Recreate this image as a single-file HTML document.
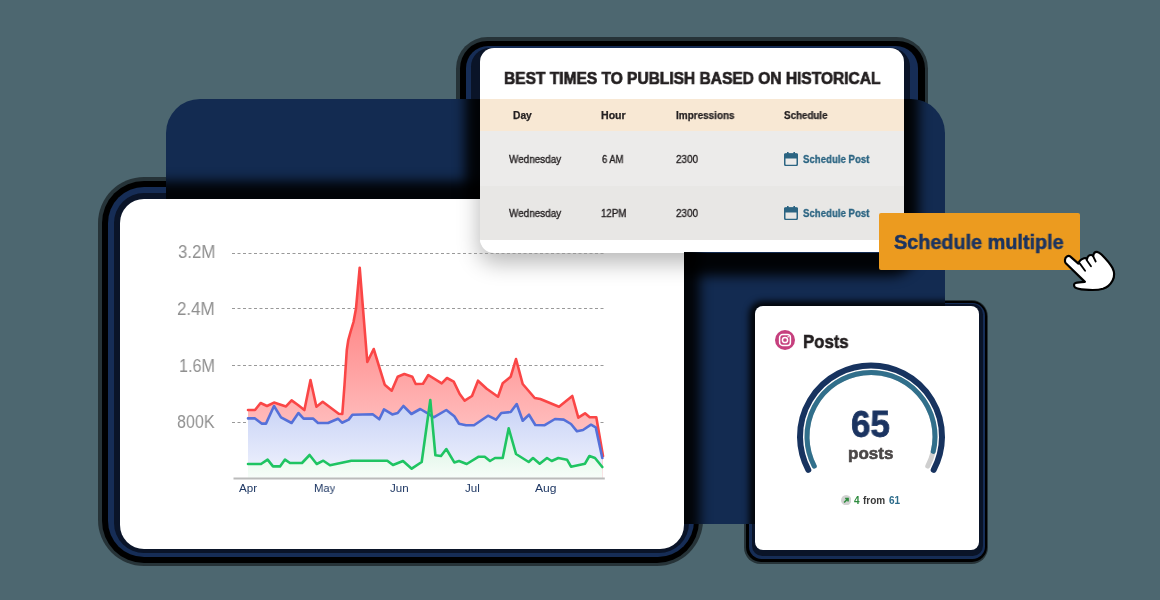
<!DOCTYPE html>
<html><head><meta charset="utf-8"><style>
*{margin:0;padding:0;box-sizing:border-box}
html,body{width:1160px;height:600px;overflow:hidden}
body{background:#4d6770;position:relative;font-family:"Liberation Sans",sans-serif}
.abs{position:absolute}
.t{position:absolute;line-height:1;white-space:nowrap;will-change:transform}
#navy{left:166px;top:99px;width:779px;height:425px;background:#132b51;border-radius:34px 34px 0 0;overflow:hidden}
#chart{left:120px;top:199px;width:563.5px;height:350px;background:#fff;border-radius:24px;overflow:hidden}
#table{left:480px;top:47.8px;width:424px;height:204.7px;background:#fff;border-radius:14px;overflow:hidden}
#posts{left:755px;top:305.5px;width:224px;height:244.5px;background:#fff;border-radius:8px}
#btn{left:879px;top:212.5px;width:201px;height:57.5px;background:#ec9b1f;border-radius:2px}
</style></head><body>

<div class="abs" style="left:98px;top:177px;width:604.5px;height:389px;border-radius:46.0px;background:rgba(0,0,0,.5)"></div>
<div class="abs" style="left:102px;top:181px;width:596.5px;height:381.5px;border-radius:42.0px;background:#000"></div>
<div class="abs" style="left:108px;top:187px;width:585.5px;height:369.5px;border-radius:36.0px;background:#162d56"></div>
<div class="abs" style="left:114px;top:193px;width:574.5px;height:360px;border-radius:30.0px;background:#0a1428"></div>
<div class="abs" style="left:456px;top:37.0px;width:472px;height:245.5px;border-radius:31.4px;background:rgba(0,0,0,.5)"></div>
<div class="abs" style="left:460px;top:41.0px;width:465px;height:239.5px;border-radius:27.4px;background:#000"></div>
<div class="abs" style="left:466px;top:45.5px;width:452px;height:233.0px;border-radius:22.1px;background:#162d56"></div>
<div class="abs" style="left:471px;top:47.8px;width:439px;height:228.7px;border-radius:18.5px;background:#0a1428"></div>
<div class="abs" style="left:744px;top:299.5px;width:244px;height:264.5px;border-radius:16.5px;background:rgba(0,0,0,.5)"></div>
<div class="abs" style="left:746px;top:300.5px;width:240.5px;height:261.5px;border-radius:15.0px;background:#000"></div>
<div class="abs" style="left:749px;top:302.5px;width:236px;height:256.5px;border-radius:12.5px;background:#162d56"></div>
<div class="abs" style="left:752px;top:304.0px;width:231px;height:252.0px;border-radius:10.2px;background:#0a1428"></div>
<div id="navy" class="abs">
<div class="abs" style="left:-46px;top:100px;width:563.5px;height:350px;border-radius:24px;box-shadow:0 -2px 12px 16px rgba(0,0,0,.9)"></div>
<div class="abs" style="left:314px;top:-51.2px;width:424px;height:204.7px;border-radius:14px;box-shadow:0 8px 12px 15px rgba(0,0,0,.92)"></div>
<div class="abs" style="left:589px;top:206.5px;width:224px;height:244.5px;border-radius:8px;box-shadow:0 1px 6px 6px rgba(0,0,0,.88)"></div>
</div>
<div id="chart" class="abs">
<div class="abs" style="left:360px;top:-151.2px;width:424px;height:204.7px;border-radius:14px;box-shadow:0 9px 22px 1px rgba(0,0,0,.28)"></div>
<svg class="abs" style="left:-120px;top:-199px" width="1160" height="600" viewBox="0 0 1160 600">
<defs>
<linearGradient id="gr" x1="0" y1="260" x2="0" y2="478" gradientUnits="userSpaceOnUse"><stop offset="0" stop-color="#ff7070"/><stop offset="0.45" stop-color="#ff9c9c"/><stop offset="0.72" stop-color="#ffb8b8"/><stop offset="1" stop-color="#ffd2d2"/></linearGradient>
<linearGradient id="gb" x1="0" y1="405" x2="0" y2="478" gradientUnits="userSpaceOnUse"><stop offset="0" stop-color="#c8d3f6"/><stop offset="1" stop-color="#f1f3fd"/></linearGradient>
<linearGradient id="gg" x1="0" y1="400" x2="0" y2="478" gradientUnits="userSpaceOnUse"><stop offset="0" stop-color="#bfeecf"/><stop offset="0.7" stop-color="#e6f8ec"/><stop offset="1" stop-color="#f7fdf9"/></linearGradient>
</defs>
<g stroke="#999" stroke-width="1" stroke-dasharray="3 2.5">
<line x1="232" y1="253.5" x2="603.5" y2="253.5"/>
<line x1="232" y1="308.5" x2="603.5" y2="308.5"/>
<line x1="232" y1="365.5" x2="603.5" y2="365.5"/>
<line x1="232" y1="422.5" x2="603.5" y2="422.5"/>
</g>
<path d="M248,410 L255,410 L260.6,403 L267,406 L274,402.6 L280,404.4 L286,406.4 L291.6,400.4 L298,405 L304.4,410 L310.5,380 L316.4,406.7 L322.7,401.8 L338.7,413.7 L342.3,414 L344.5,385 L346.8,350 L348.3,340 L350.5,332 L353.5,322 L356,308.5 L359.7,267.7 L367.3,362 L373.7,349 L384.7,384.7 L391.7,390.7 L397.7,376.7 L404.3,374 L412.3,376.7 L415.7,384 L423,383.7 L428.3,375 L441.7,383.3 L447,378 L453.7,381.6 L459.7,394 L464.7,400.7 L472,396 L478,380.7 L486.7,388.7 L498,396.7 L502.7,383.3 L510.7,376.7 L516,359 L522.7,384 L534.7,398 L540.3,399 L559,406.7 L572.3,396 L578.3,417.7 L585,413.3 L589.7,417.3 L596.3,417.3 L603,456 L603,478 L248,478 Z" fill="url(#gr)"/>
<path d="M248,418.4 L255,418.4 L261.6,423.6 L266,423.6 L274,406 L281,417.4 L291.6,423 L298.4,413 L303.6,418.6 L313,418.6 L318,423 L328,423 L338,418.7 L342,422.7 L348.7,419.6 L352.4,414.7 L372.7,414.3 L379.3,419.3 L384,409.4 L392.3,414.4 L397.7,413 L403.4,406 L411.4,414 L420.3,409 L427.7,413.3 L433.7,417.3 L446.3,410 L454.3,416.3 L459,423.7 L466,425.3 L474,425.3 L488,415.7 L496,419.7 L501.3,413 L510.7,412 L516.7,404 L522.7,420.7 L529,414.7 L535.3,425 L544.3,425.3 L555,419 L563.7,419.6 L571,424 L577,431.3 L583,430 L591,424.7 L595.7,427.3 L602.3,458 L602.3,478 L248,478 Z" fill="url(#gb)"/>
<path d="M248,464 L261,464 L267.6,459.6 L273,466.4 L280,466.4 L285,459.6 L290,463 L302,463 L309.6,455 L316.7,464 L323.3,460.7 L330,465.3 L351.3,460.7 L387.3,460.7 L393,465 L403,461 L411.7,468.7 L421.7,462 L430.3,400 L435.4,455.3 L441,456 L446.3,449 L454.3,462.4 L459,461 L466.7,464 L478.7,456.7 L484.7,456.7 L490,461 L495,458 L502.7,458 L508.7,428.3 L516,454 L528.7,462 L533,458 L539.7,463.7 L547,458 L551.7,461 L558.3,458 L567,459.7 L571,466.7 L585,463.7 L589.4,456 L595,458 L602.3,467 L602.3,478 L248,478 Z" fill="url(#gg)"/>
<g fill="none" stroke-width="2.6" stroke-linejoin="round" stroke-linecap="round">
<path d="M248,410 L255,410 L260.6,403 L267,406 L274,402.6 L280,404.4 L286,406.4 L291.6,400.4 L298,405 L304.4,410 L310.5,380 L316.4,406.7 L322.7,401.8 L338.7,413.7 L342.3,414 L344.5,385 L346.8,350 L348.3,340 L350.5,332 L353.5,322 L356,308.5 L359.7,267.7 L367.3,362 L373.7,349 L384.7,384.7 L391.7,390.7 L397.7,376.7 L404.3,374 L412.3,376.7 L415.7,384 L423,383.7 L428.3,375 L441.7,383.3 L447,378 L453.7,381.6 L459.7,394 L464.7,400.7 L472,396 L478,380.7 L486.7,388.7 L498,396.7 L502.7,383.3 L510.7,376.7 L516,359 L522.7,384 L534.7,398 L540.3,399 L559,406.7 L572.3,396 L578.3,417.7 L585,413.3 L589.7,417.3 L596.3,417.3 L603,456" stroke="#fa4646"/>
<path d="M248,418.4 L255,418.4 L261.6,423.6 L266,423.6 L274,406 L281,417.4 L291.6,423 L298.4,413 L303.6,418.6 L313,418.6 L318,423 L328,423 L338,418.7 L342,422.7 L348.7,419.6 L352.4,414.7 L372.7,414.3 L379.3,419.3 L384,409.4 L392.3,414.4 L397.7,413 L403.4,406 L411.4,414 L420.3,409 L427.7,413.3 L433.7,417.3 L446.3,410 L454.3,416.3 L459,423.7 L466,425.3 L474,425.3 L488,415.7 L496,419.7 L501.3,413 L510.7,412 L516.7,404 L522.7,420.7 L529,414.7 L535.3,425 L544.3,425.3 L555,419 L563.7,419.6 L571,424 L577,431.3 L583,430 L591,424.7 L595.7,427.3 L602.3,458" stroke="#5570d8"/>
<path d="M248,464 L261,464 L267.6,459.6 L273,466.4 L280,466.4 L285,459.6 L290,463 L302,463 L309.6,455 L316.7,464 L323.3,460.7 L330,465.3 L351.3,460.7 L387.3,460.7 L393,465 L403,461 L411.7,468.7 L421.7,462 L430.3,400 L435.4,455.3 L441,456 L446.3,449 L454.3,462.4 L459,461 L466.7,464 L478.7,456.7 L484.7,456.7 L490,461 L495,458 L502.7,458 L508.7,428.3 L516,454 L528.7,462 L533,458 L539.7,463.7 L547,458 L551.7,461 L558.3,458 L567,459.7 L571,466.7 L585,463.7 L589.4,456 L595,458 L602.3,467" stroke="#1fc462"/>
</g>
<line x1="233.5" y1="478.5" x2="604.8" y2="478.5" stroke="#bbbbbb" stroke-width="2"/>
</svg>
<div class="t" style="left:57.57px;top:44.00px;font-size:18px;font-weight:400;color:#8f8f8f;transform:scaleX(0.9342);transform-origin:0 0;">3.2M</div>
<div class="t" style="left:57.36px;top:101.00px;font-size:18px;font-weight:400;color:#8f8f8f;transform:scaleX(0.9395);transform-origin:0 0;">2.4M</div>
<div class="t" style="left:58.90px;top:158.00px;font-size:18px;font-weight:400;color:#8f8f8f;transform:scaleX(0.9000);transform-origin:0 0;">1.6M</div>
<div class="t" style="left:57.10px;top:214.00px;font-size:18px;font-weight:400;color:#8f8f8f;transform:scaleX(0.8951);transform-origin:0 0;">800K</div>
<div class="t" style="left:119.00px;top:284.00px;font-size:11.5px;font-weight:400;color:#1f3864;transform:scaleX(1.0111);transform-origin:0 0;">Apr</div>
<div class="t" style="left:194.02px;top:284.00px;font-size:11.5px;font-weight:400;color:#1f3864;transform:scaleX(0.9762);transform-origin:0 0;">May</div>
<div class="t" style="left:270.30px;top:284.00px;font-size:11.5px;font-weight:400;color:#1f3864;transform:scaleX(1.0056);transform-origin:0 0;">Jun</div>
<div class="t" style="left:344.50px;top:284.00px;font-size:11.5px;font-weight:400;color:#1f3864;transform:scaleX(1.0071);transform-origin:0 0;">Jul</div>
<div class="t" style="left:415.20px;top:284.00px;font-size:11.5px;font-weight:400;color:#1f3864;transform:scaleX(1.0500);transform-origin:0 0;">Aug</div>
</div>
<div id="table" class="abs">
<div class="abs" style="left:0;top:51.2px;width:424px;height:32px;background:#f8e8d4"></div>
<div class="abs" style="left:0;top:83.2px;width:424px;height:55px;background:#ecebea"></div>
<div class="abs" style="left:0;top:138.2px;width:424px;height:54px;background:#e8e7e5"></div>
<div class="t" style="left:24.11px;top:22.20px;font-size:17.4px;font-weight:700;color:#231f20;transform:scaleX(0.8929);transform-origin:0 0;-webkit-text-stroke:0.7px #231f20;">BEST TIMES TO PUBLISH BASED ON HISTORICAL</div>
<div class="t" style="left:32.98px;top:63.20px;font-size:10px;font-weight:700;color:#231f20;transform:scaleX(1.0235);transform-origin:0 0;-webkit-text-stroke:0.25px #231f20;">Day</div>
<div class="t" style="left:120.64px;top:63.20px;font-size:10px;font-weight:700;color:#231f20;transform:scaleX(1.0591);transform-origin:0 0;-webkit-text-stroke:0.25px #231f20;">Hour</div>
<div class="t" style="left:195.61px;top:63.20px;font-size:10px;font-weight:700;color:#231f20;transform:scaleX(0.9931);transform-origin:0 0;-webkit-text-stroke:0.25px #231f20;">Impressions</div>
<div class="t" style="left:304.10px;top:63.20px;font-size:10px;font-weight:700;color:#231f20;transform:scaleX(0.9795);transform-origin:0 0;-webkit-text-stroke:0.25px #231f20;">Schedule</div>
<div class="t" style="left:29.30px;top:106.20px;font-size:10.5px;font-weight:400;color:#231f20;transform:scaleX(0.9436);transform-origin:0 0;-webkit-text-stroke:0.35px #231f20;">Wednesday</div>
<div class="t" style="left:323.40px;top:106.20px;font-size:11.3px;font-weight:700;color:#2b6482;transform:scaleX(0.8538);transform-origin:0 0;-webkit-text-stroke:0.3px #2b6482;">Schedule Post</div>
<div class="t" style="left:195.90px;top:106.20px;font-size:10.5px;font-weight:400;color:#231f20;transform:scaleX(0.9435);transform-origin:0 0;-webkit-text-stroke:0.35px #231f20;">2300</div>
<svg class="abs" style="left:304px;top:104.2px" width="14" height="14" viewBox="0 0 14 14"><rect x="0.75" y="2" width="12.5" height="11.5" rx="1.2" fill="none" stroke="#2b6482" stroke-width="1.5"/><rect x="0" y="1.5" width="14" height="5" rx="1" fill="#2b6482"/><rect x="3" y="0" width="1.6" height="3" fill="#2b6482"/><rect x="9.4" y="0" width="1.6" height="3" fill="#2b6482"/></svg>
<div class="t" style="left:29.30px;top:160.20px;font-size:10.5px;font-weight:400;color:#231f20;transform:scaleX(0.9436);transform-origin:0 0;-webkit-text-stroke:0.35px #231f20;">Wednesday</div>
<div class="t" style="left:323.40px;top:160.20px;font-size:11.3px;font-weight:700;color:#2b6482;transform:scaleX(0.8538);transform-origin:0 0;-webkit-text-stroke:0.3px #2b6482;">Schedule Post</div>
<div class="t" style="left:195.90px;top:160.20px;font-size:10.5px;font-weight:400;color:#231f20;transform:scaleX(0.9435);transform-origin:0 0;-webkit-text-stroke:0.35px #231f20;">2300</div>
<svg class="abs" style="left:304px;top:158.2px" width="14" height="14" viewBox="0 0 14 14"><rect x="0.75" y="2" width="12.5" height="11.5" rx="1.2" fill="none" stroke="#2b6482" stroke-width="1.5"/><rect x="0" y="1.5" width="14" height="5" rx="1" fill="#2b6482"/><rect x="3" y="0" width="1.6" height="3" fill="#2b6482"/><rect x="9.4" y="0" width="1.6" height="3" fill="#2b6482"/></svg>
<div class="t" style="left:121.90px;top:106.20px;font-size:10.5px;font-weight:400;color:#231f20;transform:scaleX(0.8913);transform-origin:0 0;-webkit-text-stroke:0.35px #231f20;">6 AM</div>
<div class="t" style="left:120.98px;top:160.20px;font-size:10.5px;font-weight:400;color:#231f20;transform:scaleX(0.9231);transform-origin:0 0;-webkit-text-stroke:0.35px #231f20;">12PM</div>
</div>
<div id="posts" class="abs">
<svg class="abs" style="left:19.799999999999955px;top:24.69999999999999px" width="20" height="20" viewBox="0 0 20 20"><circle cx="10" cy="10" r="10" fill="#c6407e"/><rect x="4.6" y="4.6" width="10.8" height="10.8" rx="3" fill="none" stroke="#fff" stroke-width="1.5"/><circle cx="10" cy="10" r="2.6" fill="none" stroke="#fff" stroke-width="1.5"/><circle cx="13.2" cy="6.8" r="0.8" fill="#fff"/></svg>
<div class="t" style="left:47.89px;top:27.50px;font-size:18.5px;font-weight:700;color:#231f20;transform:scaleX(0.9061);transform-origin:0 0;-webkit-text-stroke:0.6px #231f20;">Posts</div>
<svg class="abs" style="left:0;top:0" width="224" height="245" viewBox="0 0 224 245" fill="none" stroke-linecap="round">
<path d="M53.31,163.83 A71,71 0 1 1 178.69,163.83" stroke="#17335f" stroke-width="6"/>
<path d="M59.23,160.05 A64,64 0 1 1 172.77,160.05" stroke="#cfcfcf" stroke-width="5"/>
<path d="M59.23,160.05 A64,64 0 1 1 178.23,145.44" stroke="#316f8b" stroke-width="5"/>
</svg>
<div class="t" style="left:95.93px;top:101.50px;font-size:36px;font-weight:700;color:#1b3461;transform:scaleX(0.9711);transform-origin:0 0;-webkit-text-stroke:0.8px #1b3461;">65</div>
<div class="t" style="left:92.91px;top:139.50px;font-size:17px;font-weight:700;color:#4a4646;transform:scaleX(0.9909);transform-origin:0 0;-webkit-text-stroke:0.6px #4a4646;">posts</div>
<svg class="abs" style="left:86px;top:189.5px" width="10.4" height="10.4" viewBox="0 0 10 10"><circle cx="5" cy="5" r="5" fill="#d2d2d2"/><path d="M3,7.2 L6.6,3.6 M4,3.4 L6.8,3.4 L6.8,6.2" stroke="#2e8b3e" stroke-width="1.5" fill="none"/></svg>
<div class="t" style="left:99.00px;top:190.50px;font-size:10px;font-weight:700;color:#2e8b3e;transform:scaleX(0.9500);transform-origin:0 0;">4</div>
<div class="t" style="left:108.00px;top:190.50px;font-size:10px;font-weight:700;color:#3a3a3a;">from</div>
<div class="t" style="left:134.30px;top:190.50px;font-size:10px;font-weight:700;color:#2c6b8a;transform:scaleX(0.9727);transform-origin:0 0;">61</div>
</div>
<div id="btn" class="abs"></div>
<div class="t" style="left:893.71px;top:232.00px;font-size:20px;font-weight:700;color:#1b3461;transform:scaleX(0.9912);transform-origin:0 0;-webkit-text-stroke:0.5px #1b3461;">Schedule multiple</div>
<svg class="abs" style="left:1058px;top:245px" width="64" height="52" viewBox="0 0 64 52">
<path d="M8.7,11.7 C10,10.8 12,11 13,12.1 L20.4,18.6 C21,16.5 23,14 26,13.2 C27.5,12.8 28.5,13.3 29,14 C29.5,11.8 31,10 33,10 C34,10 34.8,10.5 35.2,11 C35.5,8.5 37,6.7 39,6.8 C41,6.9 42.5,8.5 44,10 C48,14 52,18.5 54.5,23 C56.5,27 56.5,32 54.6,35.5 C52.5,39.5 49,42.5 45,43.8 C40,45.2 33,45.2 27,44.6 C22,44.2 18.5,43.5 17,42.3 C15.5,41 15.8,38.6 17.5,38 C20,37.2 24,37 26.9,36.9 L7.8,18.2 C6.3,16.5 6.8,13 8.7,11.7 Z" fill="#fff" stroke="#000" stroke-width="2.2" stroke-linejoin="round"/>
<path d="M21.7,18.4 L27.1,25.8 M28.6,14.9 L33,21.2 M35,11 L37.7,16.5" stroke="#000" stroke-width="1.8" stroke-linecap="round"/>
</svg>
</body></html>
